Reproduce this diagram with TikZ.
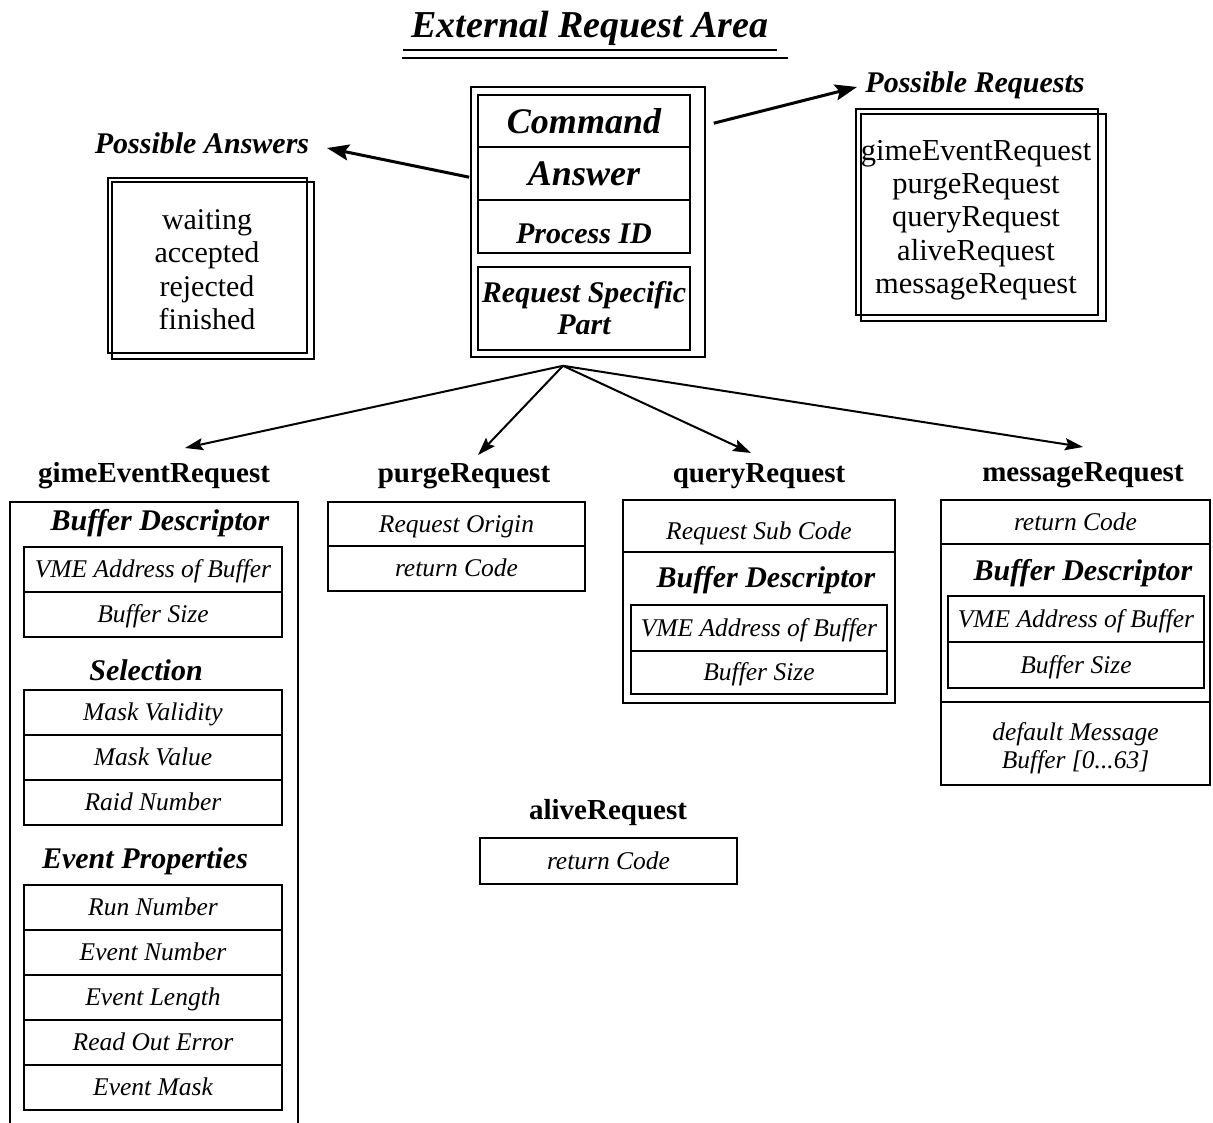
\documentclass[tikz,border=0pt]{standalone}
\usepackage{fontspec}
\setmainfont{Liberation Serif}
\usetikzlibrary{arrows.meta,calc}

\begin{document}
\begin{tikzpicture}[x=1pt,y=-1pt,
  box/.style={draw, line width=1.6pt, inner sep=0pt, align=center},
  celltext/.style={text height=22.4pt, text depth=5.6pt, font=\fontsize{25.5}{30}\selectfont\itshape},
  sect/.style={text height=21.6pt, text depth=6.6pt, font=\fontsize{30}{32}\selectfont\bfseries\itshape},
  sectbig/.style={text height=33pt, text depth=8pt, font=\fontsize{36}{40}\selectfont\bfseries\itshape},
  head/.style={text height=20.9pt, text depth=6.4pt, font=\fontsize{29}{34}\selectfont\bfseries},
  plain/.style={align=center, inner sep=0pt, font=\fontsize{30}{33.5}\selectfont},
  bigarrow/.style={line width=3pt, -{Stealth[length=22pt,width=16pt,inset=4pt]}},
  treearrow/.style={line width=2pt, -{Stealth[length=18pt,width=12pt,inset=3pt]}},
]
\useasboundingbox (0,0) rectangle (1213,1123);
\fill[white] (0,0) rectangle (1213,1123);

% title with double underline
\node[text height=27.4pt, text depth=8.4pt, font=\fontsize{38}{44}\selectfont\bfseries\itshape] (title) at (590,28) {External Request Area};
\draw[line width=2pt] (403,50) -- (777,50);
\draw[line width=2.6pt] (402,58) -- (788,58);

% central request record
\node[box, minimum width=234, minimum height=270] (req) at (588,222) {};
\node[box, sectbig, minimum width=212, minimum height=52] (cmd) at (584,121) {Command};
\node[box, sectbig, minimum width=212, minimum height=53] (answ) at (584,173.5) {Answer};
\node[box, minimum width=212, minimum height=53] (pid) at (584,226.5) {};
\node[sect] (pidtext) at (584,236) {Process ID};
\node[box, font=\fontsize{30}{32}\selectfont\bfseries\itshape, minimum width=212, minimum height=83] (rsp) at (584,308.5) {Request Specific\\Part};

% possible answers
\node[sect] (pa) at (202,146) {Possible Answers};
\node[box, minimum width=199, minimum height=175] (pabox) at (207.5,265.5) {};
\draw[line width=1.6pt] ($(pabox.north west)+(5,5)$) rectangle ($(pabox.south east)+(6,5)$);
\node[plain] (palist) at (207,269.5) {waiting\\accepted\\rejected\\finished};

% possible requests
\node[sect] (pr) at (975,85) {Possible Requests};
\node[box, minimum width=242, minimum height=206] (prbox) at (977,212) {};
\draw[line width=1.6pt] ($(prbox.north west)+(6,6)$) rectangle ($(prbox.south east)+(7,5)$);
\node[plain, font=\fontsize{30.5}{33.3}\selectfont] (prlist) at (976,220) {gimeEventRequest\\purgeRequest\\queryRequest\\aliveRequest\\messageRequest};

% arrows to the lists
\coordinate (aL) at ($(req.north west)+(-1,91)$);
\coordinate (aLtip) at (327,148);
\draw[bigarrow] (aL) -- (aLtip);
\coordinate (aR) at ($(req.north east)+(8,37)$);
\coordinate (aRtip) at (857,87);
\draw[bigarrow] (aR) -- (aRtip);

% request types
\node[head] (hg) at (154,475) {gimeEventRequest};
\node[head] (hp) at (464,475) {purgeRequest};
\node[head] (hq) at (759,475) {queryRequest};
\node[head] (hm) at (1083,474) {messageRequest};
\node[head] (ha) at (608,812) {aliveRequest};

\coordinate (apex) at ($(req.south)+(-25,8)$);
\coordinate (tg) at (185,448);
\coordinate (tp) at (478,455);
\coordinate (tq) at (751,453);
\coordinate (tm) at (1083,447);
\draw[treearrow] (apex) -- (tg);
\draw[treearrow] (apex) -- (tp);
\draw[treearrow] (apex) -- (tq);
\draw[treearrow] (apex) -- (tm);

% gimeEventRequest
\draw[line width=1.6pt] (10,1123) -- (10,502) -- (298,502) -- (298,1123);
\node[sect] (gbd) at (160,523) {Buffer Descriptor};
\node[box, celltext, minimum width=258, minimum height=45] (gvme) at (153,569.5) {VME Address of Buffer};
\node[box, celltext, minimum width=258, minimum height=45] (gsize) at (153,614.5) {Buffer Size};
\node[sect] (gsel) at (146,673) {Selection};
\node[box, celltext, minimum width=258, minimum height=45] (gmv) at (153,712.5) {Mask Validity};
\node[box, celltext, minimum width=258, minimum height=45] (gmval) at (153,757.5) {Mask Value};
\node[box, celltext, minimum width=258, minimum height=45] (graid) at (153,802.5) {Raid Number};
\node[sect] (gep) at (145,861) {Event Properties};
\node[box, celltext, minimum width=258, minimum height=45] (grun) at (153,907.5) {Run Number};
\node[box, celltext, minimum width=258, minimum height=45] (gevn) at (153,952.5) {Event Number};
\node[box, celltext, minimum width=258, minimum height=45] (gevl) at (153,997.5) {Event Length};
\node[box, celltext, minimum width=258, minimum height=45] (groe) at (153,1042.5) {Read Out Error};
\node[box, celltext, minimum width=258, minimum height=45] (gevm) at (153,1087.5) {Event Mask};

% purgeRequest
\node[box, celltext, minimum width=257, minimum height=44] (pro) at (456.5,524) {Request Origin};
\node[box, celltext, minimum width=257, minimum height=45] (prc) at (456.5,568.5) {return Code};

% queryRequest
\node[box, minimum width=272, minimum height=203] (qbox) at (759,601.5) {};
\node[box, minimum width=272, minimum height=52] (qsub) at (759,526) {};
\node[celltext] (qsubtext) at (759,531) {Request Sub Code};
\node[sect] (qbd) at (766,580) {Buffer Descriptor};
\node[box, celltext, minimum width=256, minimum height=46] (qvme) at (759,628) {VME Address of Buffer};
\node[box, celltext, minimum width=256, minimum height=43] (qsize) at (759,672.5) {Buffer Size};

% messageRequest
\node[box, minimum width=269, minimum height=285] (mbox) at (1075.5,642.5) {};
\node[box, celltext, minimum width=269, minimum height=44] (mrc) at (1075.5,522) {return Code};
\node[sect] (mbd) at (1083,573) {Buffer Descriptor};
\node[box, celltext, minimum width=256, minimum height=46] (mvme) at (1076,619) {VME Address of Buffer};
\node[box, celltext, minimum width=256, minimum height=46] (msize) at (1076,665) {Buffer Size};
\node[box, minimum width=269, minimum height=83] (mdef) at (1075.5,743.5) {};
\node[align=center, inner sep=0pt, font=\fontsize{25.5}{28}\selectfont\itshape] (mdeftext) at (1075.5,748.5) {default Message\\Buffer [0...63]};

% aliveRequest
\node[box, celltext, minimum width=257, minimum height=46] (arc) at (608.5,861) {return Code};
\end{tikzpicture}
\end{document}
